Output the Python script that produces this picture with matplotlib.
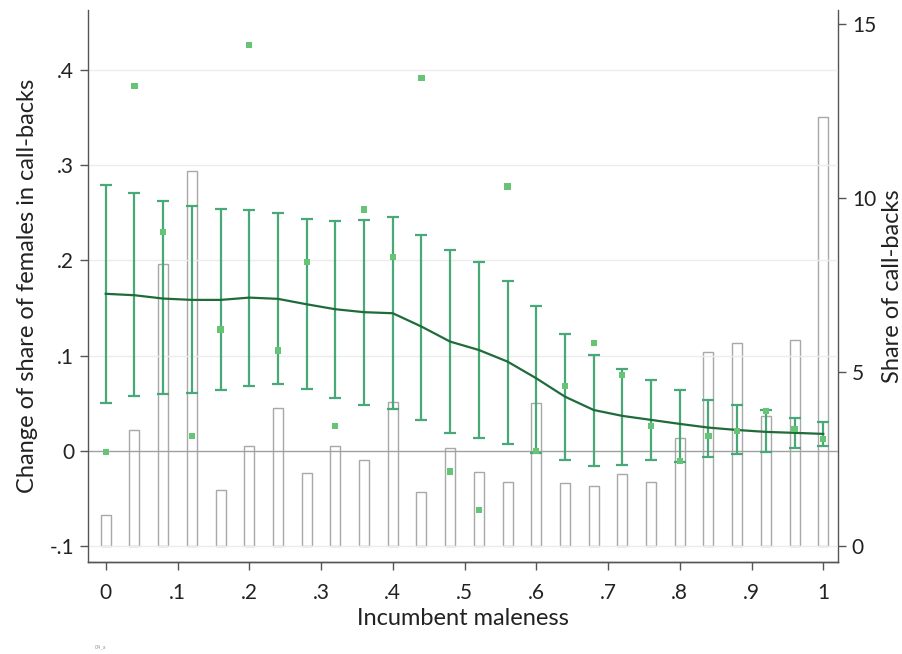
import matplotlib
matplotlib.use("Agg")
import matplotlib.pyplot as plt
import numpy as np

plt.rcParams['font.family'] = ['Lato', 'DejaVu Sans']

# ---- data ----
maleness = [0.00, 0.04, 0.08, 0.12, 0.16, 0.20, 0.24, 0.28, 0.32, 0.36, 0.40, 0.44, 0.48,
            0.52, 0.56, 0.60, 0.64, 0.68, 0.72, 0.76, 0.80, 0.84, 0.88, 0.92, 0.96, 1.00]
share_callbacks = [0.89, 3.33, 8.10, 10.77, 1.61, 2.89, 3.96, 2.09, 2.88, 2.48, 4.15, 1.57, 2.83,
                   2.13, 1.85, 4.12, 1.81, 1.73, 2.08, 1.84, 3.11, 5.58, 5.84, 3.75, 5.93, 12.32]
raw_change = [-0.001, 0.383, 0.230, 0.0154, 0.1275, 0.4265, 0.1054, 0.198, 0.026, 0.2535, 0.204, 0.392, -0.0217,
              -0.0623, 0.2777, -0.0003, 0.0686, 0.1134, 0.0795, 0.026, -0.0108, 0.0154, 0.021, 0.042, 0.023, 0.0126]
smooth_change = [0.165, 0.1635, 0.160, 0.1586, 0.1586, 0.161, 0.1597, 0.154, 0.1488, 0.1457, 0.1446, 0.1306, 0.1148,
                 0.106, 0.0938, 0.0763, 0.057, 0.043, 0.0368, 0.0326, 0.0284, 0.0245, 0.022, 0.020, 0.019, 0.0179]
ci_upper = [0.279, 0.271, 0.262, 0.257, 0.254, 0.253, 0.250, 0.2437, 0.2416, 0.2426, 0.2455, 0.227, 0.2115,
            0.1985, 0.178, 0.1526, 0.1225, 0.1008, 0.0861, 0.0749, 0.0644, 0.0536, 0.048, 0.043, 0.0347, 0.0305]
ci_lower = [0.0508, 0.0578, 0.0595, 0.0606, 0.064, 0.0683, 0.0704, 0.0648, 0.056, 0.0483, 0.0438, 0.0322, 0.0192,
            0.014, 0.0077, -0.002, -0.0098, -0.016, -0.0147, -0.0098, -0.012, -0.006, -0.003, -0.0007, 0.003, 0.005]
left_ticks = [-0.1, 0, 0.1, 0.2, 0.3, 0.4]
left_labels = ['-.1', '0', '.1', '.2', '.3', '.4']
right_ticks = [0, 5, 10, 15]
x_ticks = [0, 0.1, 0.2, 0.3, 0.4, 0.5, 0.6, 0.7, 0.8, 0.9, 1.0]
x_labels = ['0', '.1', '.2', '.3', '.4', '.5', '.6', '.7', '.8', '.9', '1']

x = np.array(maleness)
smooth = np.array(smooth_change)
yerr = np.vstack([smooth - np.array(ci_lower), np.array(ci_upper) - smooth])

fig = plt.figure(figsize=(9.02, 6.54), dpi=100)
ax = fig.add_axes([0.0976, 0.1407, 0.8314, 0.844])
ax2 = ax.twinx()

spine_col = '#555555'
# bars on right axis
ax2.bar(x, share_callbacks, width=0.014, facecolor='none', edgecolor='#a8a8a8', linewidth=1.0, zorder=1)

# left axis: grid, errorbars, line, points
for t in left_ticks:
    ax.axhline(t, color='#a0a0a0' if t == 0 else '#ececec', lw=1.0, zorder=0)
ax.errorbar(x, smooth, yerr=yerr, fmt='none', ecolor='#48a878', elinewidth=1.6,
            capsize=4.0, capthick=1.6, zorder=3)
ax.plot(x, smooth, color='#1f6b3a', lw=1.6, zorder=4)
ax.scatter(x, raw_change, marker='s', s=20, color='#66c477', edgecolors='none', zorder=5)

ax.set_zorder(ax2.get_zorder() + 1)
ax.patch.set_visible(False)

ax.set_xlim(-0.0247, 1.0205)
ax.set_ylim(-0.1166, 0.463)
ax2.set_ylim((-0.1166 + 0.1) * 27.35, (0.463 + 0.1) * 27.35)

ax.set_xticks(x_ticks)
ax.set_xticklabels(x_labels)
ax.set_yticks(left_ticks)
ax.set_yticklabels(left_labels)
ax2.set_yticks(right_ticks)
ax2.set_yticklabels([str(t) for t in right_ticks])

for a in (ax, ax2):
    a.spines['top'].set_visible(False)
    for s in ('left', 'right', 'bottom'):
        a.spines[s].set_color(spine_col)
        a.spines[s].set_linewidth(1.0)
    a.tick_params(colors='#222222', labelsize=15, length=6, width=1.0, direction='out')
    a.tick_params(axis='both', color=spine_col)
ax.tick_params(axis='x', pad=9)
ax.tick_params(axis='y', pad=4)
ax2.tick_params(axis='y', pad=4)
ax2.spines['left'].set_visible(False)
ax.spines['right'].set_visible(False)

ax.set_xlabel('Incumbent maleness', fontsize=17, color='#222222', labelpad=4)
ax.set_ylabel('Change of share of females in call-backs', fontsize=17, color='#222222', labelpad=8)
ax2.set_ylabel('Share of call-backs', fontsize=17, color='#222222', labelpad=4)

fig.text(0.1053, 0.009, '04_a', fontsize=4, color='#999999')

fig.savefig('out.png', dpi=100)
